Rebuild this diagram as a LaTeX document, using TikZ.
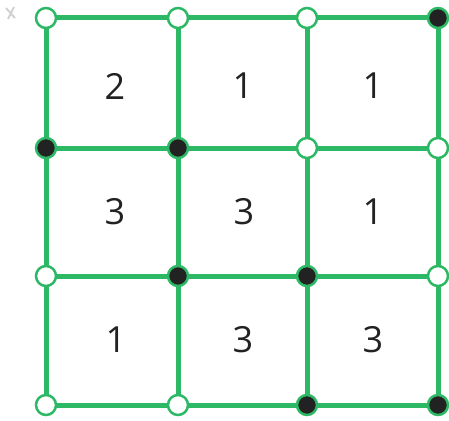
\documentclass[tikz,border=0pt]{standalone}
\usepackage{fontspec}
\setmainfont{Open Sans}
\definecolor{grn}{HTML}{2DB865}
\definecolor{ink}{HTML}{222222}
\begin{document}
\begin{tikzpicture}[x=1pt,y=-1pt,
  edge/.style={draw=grn,line width=5pt},
  openv/.style={circle,draw=grn,line width=2.5pt,fill=white,minimum size=20pt,inner sep=0pt},
  fullv/.style={circle,draw=grn,line width=2.5pt,fill=ink,minimum size=20pt,inner sep=0pt},
  num/.style={font=\fontsize{36}{36}\selectfont,text=ink}]
\useasboundingbox (0,0) rectangle (449,420);
% vertices
\path (46,18) coordinate (p00) (178,18) coordinate (p01) (307,18) coordinate (p02) (438,18) coordinate (p03)
      (46,148) coordinate (p10) (178,148) coordinate (p11) (307,148) coordinate (p12) (438,148) coordinate (p13)
      (46,276) coordinate (p20) (178,276) coordinate (p21) (307,276) coordinate (p22) (438,276) coordinate (p23)
      (46,405) coordinate (p30) (178,405) coordinate (p31) (307,405) coordinate (p32) (438,405) coordinate (p33);
\foreach \r in {0,1,2,3}{
  \draw[edge] (p\r0) -- (p\r1) -- (p\r2) -- (p\r3);
  \draw[edge] (p0\r) -- (p1\r) -- (p2\r) -- (p3\r);
}
\node[openv] (v00) at (p00) {}; \node[openv] (v01) at (p01) {}; \node[openv] (v02) at (p02) {}; \node[fullv] (v03) at (p03) {};
\node[fullv] (v10) at (p10) {}; \node[fullv] (v11) at (p11) {}; \node[openv] (v12) at (p12) {}; \node[openv] (v13) at (p13) {};
\node[openv] (v20) at (p20) {}; \node[fullv] (v21) at (p21) {}; \node[fullv] (v22) at (p22) {}; \node[openv] (v23) at (p23) {};
\node[openv] (v30) at (p30) {}; \node[openv] (v31) at (p31) {}; \node[fullv] (v32) at (p32) {}; \node[fullv] (v33) at (p33) {};
% numbers
\node[num] (c00) at (115,86) {2};
\node[num] (c01) at (243,86) {1};
\node[num] (c02) at (373,86) {1};
\node[num] (c10) at (115,212) {3};
\node[num] (c11) at (244,212) {3};
\node[num] (c12) at (373,212) {1};
\node[num] (c20) at (116,340) {1};
\node[num] (c21) at (243,340) {3};
\node[num] (c22) at (373,340) {3};
% faint mark
\draw[black!18,line width=2pt] (6,8) -- (15,18) (14,7) -- (8,19);
\end{tikzpicture}
\end{document}
